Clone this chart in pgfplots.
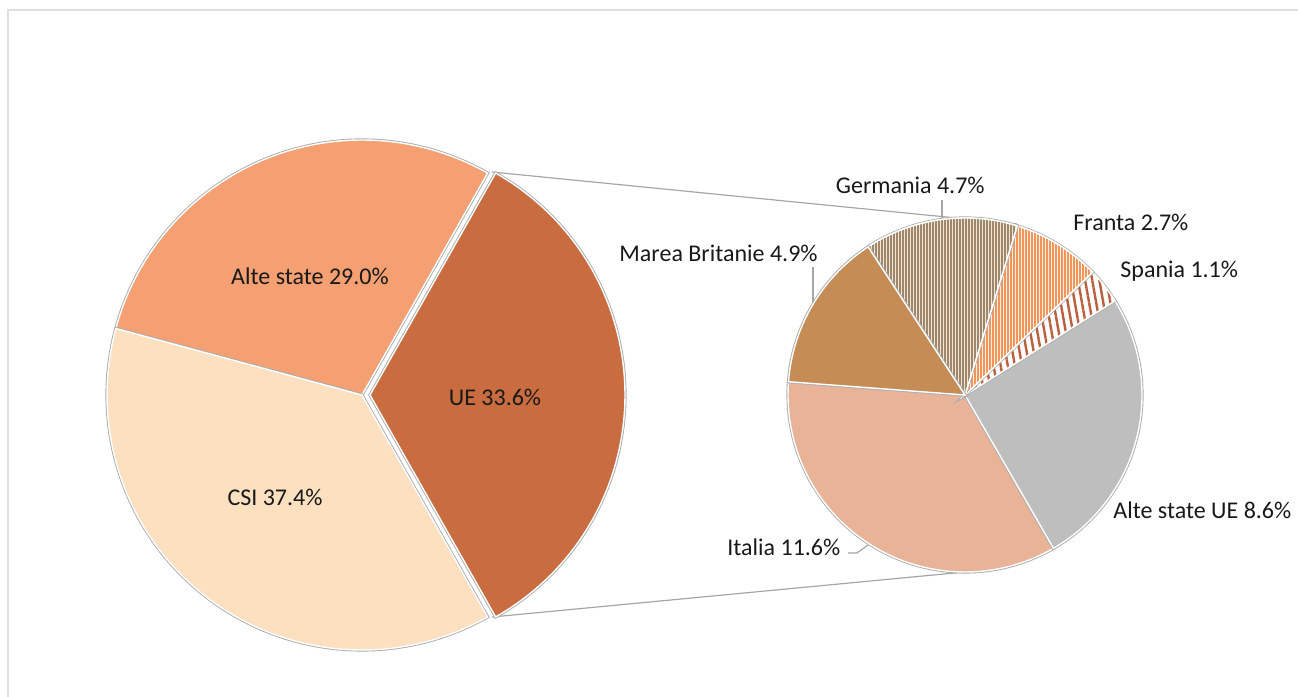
\documentclass[border=0pt]{standalone}
\usepackage{pgfplots}
\pgfplotsset{compat=1.18}
\usepackage{fontspec}
\setmainfont{Carlito}
\usetikzlibrary{patterns.meta}

% data (percent)
\def\vAlte{29.0}
\def\vCSI{37.4}
\def\vUE{33.6}
\def\vMB{4.9}
\def\vGer{4.7}
\def\vFra{2.7}
\def\vSpa{1.1}
\def\vAsue{8.6}
\def\vIta{11.6}

% main pie angles
\pgfmathsetmacro\mA{-\vUE*3.6/2}
\pgfmathsetmacro\mB{\vUE*3.6/2}
\pgfmathsetmacro\mC{\mB+\vAlte*3.6}
\pgfmathsetmacro\mD{\mC+\vCSI*3.6}
% secondary pie angles (share of UE)
\pgfmathsetmacro\sA{175.7}
\pgfmathsetmacro\sB{\sA+\vIta/\vUE*360}
\pgfmathsetmacro\sC{\sB+\vAsue/\vUE*360}
\pgfmathsetmacro\sD{\sC+\vSpa/\vUE*360}
\pgfmathsetmacro\sE{\sD+\vFra/\vUE*360}
\pgfmathsetmacro\sF{\sE+\vGer/\vUE*360}
\pgfmathsetmacro\sG{\sF+\vMB/\vUE*360}

\definecolor{cAlte}{RGB}{244,160,114}
\definecolor{cCSI}{RGB}{253,224,192}
\definecolor{cUE}{RGB}{201,108,64}
\definecolor{cMB}{RGB}{197,141,85}
\definecolor{cGerBg}{RGB}{240,230,215}
\definecolor{cGerLn}{RGB}{160,135,108}
\definecolor{cFraBg}{RGB}{255,240,228}
\definecolor{cFraLn}{RGB}{240,150,92}
\definecolor{cSpaLn}{RGB}{185,95,62}
\definecolor{cAsue}{RGB}{190,190,190}
\definecolor{cIta}{RGB}{233,179,151}
\definecolor{txt}{RGB}{25,25,25}

\newcommand{\pieslice}[6]{%
  \addplot[#6, domain=#4:#5, samples=90, variable=\t,
    preaction={draw=gray!65, line width=1.6pt}, draw=white, line width=0.7pt]
    ({#1+#3*cos(\t)}, {#2+#3*sin(\t)}) -- (axis cs:#1,#2) -- cycle;
}

\begin{document}
\begin{tikzpicture}
\begin{axis}[scale only axis, width=649pt, height=348.5pt,
  xmin=0, xmax=1298, ymin=0, ymax=697, hide axis, clip=false]
  % frame
  \draw[gray!25, line width=1.2pt] (axis cs:8,0) -- (axis cs:8,687) -- (axis cs:1298,687);
  % connector lines
  \draw[gray!70, line width=0.6pt] (axis cs:492,525) -- (axis cs:1017,473);
  \draw[gray!70, line width=0.6pt] (axis cs:492,80) -- (axis cs:965,125);
  % main pie
  \pieslice{362}{302}{255}{\mB}{\mC}{fill=cAlte}
  \pieslice{362}{302}{255}{\mC}{\mD}{fill=cCSI}
  \pieslice{370}{302}{255}{\mA}{\mB}{fill=cUE}
  % secondary pie
  \pieslice{965}{302}{177}{\sA}{\sB}{fill=cIta}
  \pieslice{965}{302}{177}{\sB}{\sC}{fill=cAsue}
  \pieslice{965}{302}{177}{\sC}{\sD}{fill=white, postaction={pattern={Lines[angle=100,distance=3.5pt,line width=1.2pt]}, pattern color=cSpaLn}}
  \pieslice{965}{302}{177}{\sD}{\sE}{fill=cFraBg, postaction={pattern={Lines[angle=90,distance=1.5pt,line width=0.8pt]}, pattern color=cFraLn}}
  \pieslice{965}{302}{177}{\sE}{\sF}{fill=cGerBg, postaction={pattern={Lines[angle=90,distance=1.5pt,line width=0.55pt]}, pattern color=cGerLn}}
  \pieslice{965}{302}{177}{\sF}{\sG}{fill=cMB}
  % leader lines
  \draw[gray!70, line width=0.6pt] (axis cs:942,497) -- (axis cs:942,479);
  \draw[gray!70, line width=0.6pt] (axis cs:813,430) -- (axis cs:813,395);
  \draw[gray!70, line width=0.6pt] (axis cs:848,144) -- (axis cs:857,144) -- (axis cs:868,152);
  % labels
  \begin{scope}[every node/.style={font=\fontsize{12}{14}\selectfont, text=txt, inner sep=0pt}]
  \node at (axis cs:310,421) {Alte state 29.0\%};
  \node at (axis cs:495,300) {UE 33.6\%};
  \node at (axis cs:275,200) {CSI 37.4\%};
  \node[anchor=east] at (axis cs:818,444) {Marea Britanie 4.9\%};
  \node[anchor=east] at (axis cs:985,512) {Germania 4.7\%};
  \node[anchor=west] at (axis cs:1073,475) {Franta 2.7\%};
  \node[anchor=west] at (axis cs:1120,426) {Spania 1.1\%};
  \node[anchor=west] at (axis cs:1113,187) {Alte state UE 8.6\%};
  \node[anchor=west] at (axis cs:727,150) {Italia 11.6\%};
  \end{scope}
\end{axis}
\pgfresetboundingbox
\path (current axis.south west) rectangle (current axis.north east);
\end{tikzpicture}
\end{document}
